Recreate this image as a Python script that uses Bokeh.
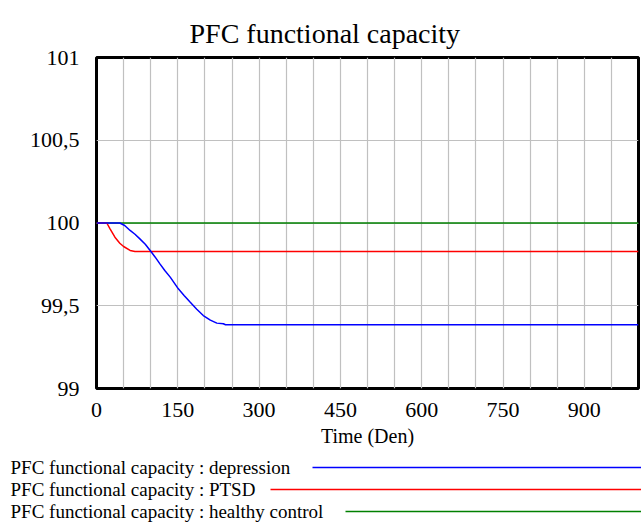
from bokeh.plotting import figure
from bokeh.models import Range1d, FixedTicker, SingleIntervalTicker
from bokeh.layouts import column
from bokeh.core.properties import value
from bokeh.embed import file_html
from bokeh.resources import INLINE

# ---- data ----
title_text = "PFC functional capacity"
x_label = "Time (Den)"

time_depression = [0, 43, 52, 62, 71, 80, 90, 99, 108, 117, 126, 136, 151, 162, 173, 185, 197, 210, 222, 234, 238, 1000]
cap_depression = [100.0, 100.0, 99.985, 99.955, 99.932, 99.904, 99.872, 99.834, 99.795, 99.753, 99.713, 99.673,
                  99.602, 99.561, 99.521, 99.479, 99.441, 99.413, 99.395, 99.391, 99.385, 99.385]

time_ptsd = [0, 19, 25, 34, 43, 50, 62, 71, 1000]
cap_ptsd = [100.0, 100.0, 99.965, 99.914, 99.878, 99.858, 99.834, 99.828, 99.828]

time_healthy = [0, 1000]
cap_healthy = [100.0, 100.0]

x_ticks = [0, 150, 300, 450, 600, 750, 900]
y_ticks = [99, 99.5, 100, 100.5, 101]
y_tick_labels = ["99", "99,5", "100", "100,5", "101"]

series_names = ["PFC functional capacity : depression",
                "PFC functional capacity : PTSD",
                "PFC functional capacity : healthy control"]
series_colors = ["#0000ff", "#ff0000", "#008000"]

FONT = "Liberation Serif"

# ---- main chart ----
p = figure(width=641, height=452, x_range=Range1d(0, 1000), y_range=Range1d(99, 101),
           output_backend="svg", toolbar_location=None, title=title_text,
           min_border_left=96, min_border_right=3, min_border_top=57, min_border_bottom=64)
p.frame_align = False

p.title.text_font = FONT
p.title.text_font_size = "28px"
p.title.text_font_style = "normal"
p.title.text_color = "black"
p.title.align = "left"
p.title.offset = 93
p.title.standoff = 18

p.outline_line_color = "black"
p.outline_line_width = 3
p.outline_line_alpha = 1

p.line(time_healthy, cap_healthy, line_color=series_colors[2], line_width=1.5)
p.line(time_ptsd, cap_ptsd, line_color=series_colors[1], line_width=1.5)
p.line(time_depression, cap_depression, line_color=series_colors[0], line_width=1.5)

p.xaxis.ticker = FixedTicker(ticks=x_ticks)
p.yaxis.ticker = FixedTicker(ticks=y_ticks)
p.yaxis.major_label_overrides = {t: l for t, l in zip(y_ticks, y_tick_labels)}
for ax in (p.xaxis[0], p.yaxis[0]):
    ax.axis_line_color = None
    ax.major_tick_line_color = None
    ax.minor_tick_line_color = None
    ax.major_label_text_font = FONT
    ax.major_label_text_font_size = "22px"
    ax.major_label_text_color = "black"
p.xaxis.major_label_standoff = 8
p.yaxis.major_label_standoff = 11
p.xaxis.axis_label = x_label
p.xaxis.axis_label_text_font = FONT
p.xaxis.axis_label_text_font_size = "20px"
p.xaxis.axis_label_text_font_style = "normal"
p.xaxis.axis_label_text_color = "black"
p.xaxis.axis_label_standoff = 5

p.xgrid.ticker = SingleIntervalTicker(interval=50)
p.ygrid.ticker = SingleIntervalTicker(interval=0.5)
p.grid.grid_line_color = "#c0c0c0"
p.grid.grid_line_width = 1.2
p.grid.grid_line_alpha = 1

# ---- legend panel (text, then line to the right) ----
lg = figure(width=641, height=70, x_range=Range1d(0, 641), y_range=Range1d(70, 0),
            output_backend="svg", toolbar_location=None,
            x_axis_location=None, y_axis_location=None,
            min_border=0, min_border_left=0, min_border_right=0, min_border_top=0, min_border_bottom=0)
lg.frame_align = False
lg.outline_line_color = None
lg.grid.visible = False

row_y = [15, 37, 59]
line_start = [312, 270, 345]
lg.text(x=[10, 10, 10], y=row_y, text=series_names, text_font=value(FONT), text_font_size="19px",
        text_baseline="middle", text_align="left", text_color="black")
lg.segment(x0=line_start, y0=row_y, x1=[641, 641, 641], y1=row_y,
           line_color=series_colors, line_width=1.5)

layout = column(p, lg, spacing=0)
open("out.html", "w").write(file_html(layout, INLINE))
